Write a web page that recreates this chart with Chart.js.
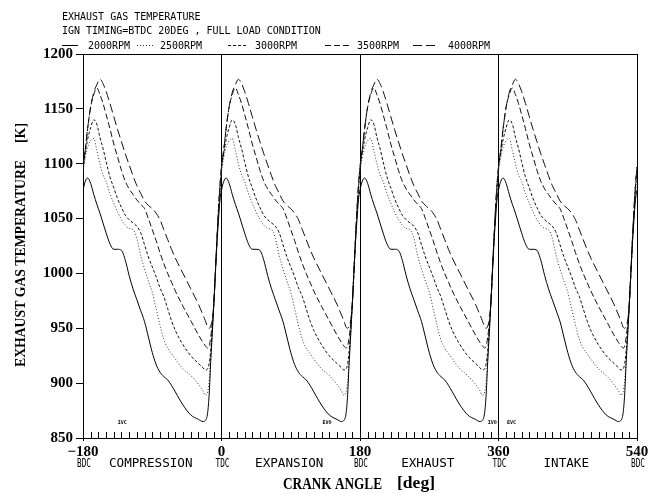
<!DOCTYPE html>
<html>
<head>
<meta charset="utf-8">
<script src="https://cdn.jsdelivr.net/npm/chart.js@4"></script>
<style>
  html, body { margin: 0; padding: 0; background: #fff; }
  #wrap { width: 663px; height: 494px; }
</style>
</head>
<body>
<div id="wrap"><canvas id="myChart" width="663" height="494"></canvas></div>
<script>
const rpmLabels = ["2000RPM", "2500RPM", "3000RPM", "3500RPM", "4000RPM"];
const cycleStarts = [-180, 0, 180, 360];
const cycleOffsets = [0, 3, 6, 10, 14, 18, 22, 26, 30, 35, 40, 45, 50, 55, 60, 65, 70, 75, 80, 85, 90,
  95, 100, 105, 110, 115, 120, 130, 140, 150, 156, 159, 162, 164, 166, 168, 170, 172, 174, 176, 178, 180];

const temp2000 = [1076, 1084, 1087, 1082, 1072, 1063, 1055, 1046, 1037, 1027, 1022, 1022, 1021, 1012, 998, 986, 976,
  966, 956, 942, 928, 917, 910, 906, 903, 898, 892, 880, 871, 867, 865, 866, 873, 890, 920, 945, 972, 1000, 1027, 1048, 1067, 1076];
const temp2500 = [1092, 1106, 1115, 1121, 1123, 1112, 1100, 1090, 1084, 1073, 1064, 1056, 1049, 1044, 1041, 1040, 1032,
  1016, 1004, 993, 983, 968, 953, 940, 932, 927, 922, 913, 907, 899, 893, 889, 892, 902, 922, 946, 972, 1000, 1028, 1052, 1073, 1092];
const temp3000 = [1095, 1110, 1122, 1133, 1140, 1136, 1124, 1114, 1102, 1088, 1078, 1068, 1060, 1053, 1049, 1046, 1043,
  1037, 1026, 1015, 1006, 997, 987, 979, 968, 957, 948, 935, 925, 918, 914, 912, 913, 918, 930, 950, 972, 1000, 1028, 1054, 1076, 1095];
const temp3500 = [1097, 1113, 1132, 1152, 1163, 1169, 1163, 1155, 1145, 1132, 1118, 1106, 1094, 1084, 1077, 1072, 1067,
  1063, 1059, 1050, 1040, 1030, 1019, 1009, 1000, 992, 984, 970, 957, 944, 937, 934, 932, 934, 942, 955, 972, 1000, 1030, 1058, 1080, 1097];
const temp4000 = [1097, 1113, 1132, 1152, 1165, 1172, 1177, 1173, 1166, 1155, 1143, 1131, 1120, 1109, 1099, 1089, 1080,
  1073, 1066, 1062, 1059, 1055, 1049, 1040, 1031, 1022, 1014, 1000, 986, 972, 962, 957, 951, 950, 952, 958, 972, 1000, 1030, 1058, 1080, 1097];

const xTicks = [-180, 0, 180, 360, 540];
const deadCentres = ["BDC", "TDC", "BDC", "TDC", "BDC"];
const strokes = ["COMPRESSION", "EXPANSION", "EXHAUST", "INTAKE"];
const valveEvents = ["IVC", "EVO", "IVO", "EVC"];
const valveAngles = [-129, 137, 352, 377];

function cyclePoints(temps) {
  const pts = [];
  cycleStarts.forEach((start, k) => {
    cycleOffsets.forEach((off, i) => {
      if (k > 0 && off === 0) return;
      pts.push({ x: start + off, y: temps[i] });
    });
  });
  return pts;
}

const dashes = [[], [1, 2], [3, 2], [6, 3], [9, 4]];
const colours = ["#000", "#333", "#111", "#111", "#111"];
const allTemps = [temp2000, temp2500, temp3000, temp3500, temp4000];

const mono = '"DejaVu Sans Mono", monospace';
const serif = '"Liberation Serif", "Times New Roman", serif';

function fitText(ctx, text, x, y, width) {
  const w = ctx.measureText(text).width;
  ctx.save();
  ctx.translate(x, y);
  ctx.scale(width / w, 1);
  ctx.fillText(text, 0, 0);
  ctx.restore();
}

const decorations = {
  id: "decorations",
  afterDraw(chart) {
    const ctx = chart.ctx;
    const xs = chart.scales.x, ys = chart.scales.y;
    const area = chart.chartArea;
    ctx.save();
    ctx.fillStyle = "#000";
    ctx.strokeStyle = "#000";
    ctx.textBaseline = "alphabetic";

    // header
    ctx.font = "10px " + mono;
    ctx.fillText("EXHAUST GAS TEMPERATURE", 62, 19.5);
    ctx.fillText("IGN TIMING=BTDC 20DEG , FULL LOAD CONDITION", 62, 33.5);

    // legend
    const sample = [[62, 78, 88], [137, 153, 160], [228, 248, 255], [325, 352, 357], [413, 435, 448]];
    chart.data.datasets.forEach((ds, i) => {
      const [a, b, t] = sample[i];
      ctx.save();
      ctx.lineWidth = 1;
      ctx.strokeStyle = ds.borderColor;
      ctx.setLineDash(ds.borderDash);
      ctx.beginPath();
      ctx.moveTo(a, 45.5);
      ctx.lineTo(b, 45.5);
      ctx.stroke();
      ctx.restore();
      ctx.fillText(ds.label, t, 48.5);
    });

    // minor ticks every 10 deg
    ctx.lineWidth = 1;
    ctx.beginPath();
    for (let v = -170; v < 540; v += 10) {
      if (v % 180 === 0) continue;
      const px = Math.round(xs.getPixelForValue(v)) + 0.5;
      ctx.moveTo(px, area.bottom);
      ctx.lineTo(px, area.bottom - 6);
    }
    ctx.stroke();

    // valve events
    ctx.font = "bold 5px " + mono;
    ctx.textAlign = "center";
    valveEvents.forEach((name, i) => {
      ctx.fillText(name, xs.getPixelForValue(valveAngles[i]), 424);
    });

    // dead centres and strokes
    ctx.font = "12px " + mono;
    ctx.textAlign = "left";
    xTicks.forEach((v, i) => {
      const px = xs.getPixelForValue(v);
      fitText(ctx, deadCentres[i], px - 6, 467, 14);
    });
    strokes.forEach((name, i) => {
      const w = name.length * 7.6;
      const mid = xs.getPixelForValue(xTicks[i] + 90) - 1.5;
      fitText(ctx, name, mid - w / 2, 467, w);
    });

    // axis titles
    ctx.font = "bold 16px " + serif;
    fitText(ctx, "CRANK ANGLE", 283, 489, 99);
    fitText(ctx, "[deg]", 397, 488, 38);

    ctx.font = "bold 15px " + serif;
    ctx.save();
    ctx.translate(25, 367);
    ctx.rotate(-Math.PI / 2);
    fitText(ctx, "EXHAUST GAS TEMPERATURE", 0, 0, 207);
    fitText(ctx, "[K]", 224, 0, 20);
    ctx.restore();

    ctx.restore();
  }
};

new Chart(document.getElementById("myChart"), {
  type: "line",
  data: {
    datasets: rpmLabels.map((label, i) => ({
      label: label,
      data: cyclePoints(allTemps[i]),
      borderColor: colours[i],
      borderDash: dashes[i],
      borderWidth: 1,
      pointRadius: 0,
      fill: false,
      cubicInterpolationMode: "monotone",
    })),
  },
  options: {
    responsive: false,
    animation: false,
    layout: { padding: { left: 0, top: 54, right: 26, bottom: 0 } },
    plugins: { legend: { display: false }, tooltip: { enabled: false } },
    scales: {
      x: {
        type: "linear",
        min: -180,
        max: 540,
        afterBuildTicks: (s) => { s.ticks = xTicks.map((v) => ({ value: v })); },
        afterFit: (s) => { s.height = 56; },
        grid: { color: "#000", lineWidth: 1, tickLength: 3 },
        border: { color: "#000" },
        ticks: {
          color: "#000",
          padding: 2,
          maxRotation: 0,
          autoSkip: false,
          font: { family: serif, weight: "bold", size: 15 },
          callback: (v) => String(v).replace("-", "\u2212"),
        },
      },
      y: {
        min: 850,
        max: 1200,
        afterFit: (s) => { s.width = 83; },
        grid: {
          color: (c) => (c.tick && c.tick.value === 1200 ? "#000" : "rgba(0,0,0,0)"),
          tickColor: "#000",
          tickLength: 7,
        },
        border: { color: "#000" },
        ticks: {
          stepSize: 50,
          color: "#000",
          padding: 3,
          font: { family: serif, weight: "bold", size: 15 },
          callback: (v) => String(v),
        },
      },
    },
  },
  plugins: [decorations],
});
</script>
</body>
</html>
